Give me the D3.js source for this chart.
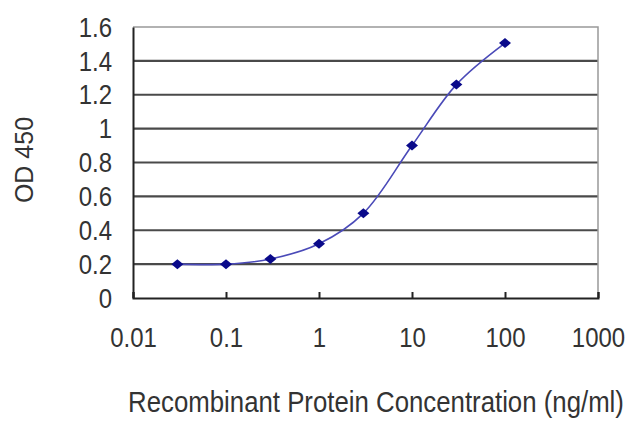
<!DOCTYPE html>
<html>
<head>
<meta charset="utf-8">
<script src="https://cdn.jsdelivr.net/npm/d3@7"></script>
<style>
  body { margin: 0; background: #fff; }
  text { font-family: "Liberation Sans", Arial, sans-serif; fill: #333; }
</style>
</head>
<body>
<svg id="chart" width="640" height="427"></svg>
<script>
// concentration (ng/ml) and OD 450 readings
const concentrations = [0.03, 0.1, 0.3, 1, 3, 10, 30, 100];
const odValues = [0.2, 0.2, 0.23, 0.32, 0.5, 0.9, 1.26, 1.505];
const xTicks = [0.01, 0.1, 1, 10, 100, 1000];
const xTickLabels = ["0.01", "0.1", "1", "10", "100", "1000"];
const yTicks = [0, 0.2, 0.4, 0.6, 0.8, 1, 1.2, 1.4, 1.6];
const yTickLabels = ["0", "0.2", "0.4", "0.6", "0.8", "1", "1.2", "1.4", "1.6"];

const svg = d3.select("#chart");
const plotLeft = 133, plotRight = 598, plotTop = 27, plotBottom = 298;
const stretch = 1.12; // labels in the original look a bit tall

const x = d3.scaleLog().domain([0.01, 1000]).range([plotLeft, plotRight]);
const y = d3.scaleLinear().domain([0, 1.6]).range([plotBottom, plotTop]);

// gridlines
svg.append("g").selectAll("line")
  .data(yTicks.filter(d => d > 0 && d < 1.6))
  .enter().append("line")
  .attr("x1", plotLeft).attr("x2", plotRight)
  .attr("y1", d => y(d)).attr("y2", d => y(d))
  .attr("stroke", "#4a4a4a").attr("stroke-width", 2.2);

// plot frame top/right
svg.append("path")
  .attr("d", `M${plotLeft},${y(1.6)}H${plotRight}V${plotBottom}`)
  .attr("fill", "none").attr("stroke", "#999").attr("stroke-width", 1.5);

// axes
const yAxis = d3.axisLeft(y).tickValues(yTicks).tickSize(0).tickFormat((d, i) => yTickLabels[i]);
const gy = svg.append("g").attr("transform", `translate(${plotLeft},0)`).call(yAxis);
gy.select(".domain").attr("stroke", "#222").attr("stroke-width", 2);
gy.selectAll(".tick text")
  .attr("x", 0).attr("y", 0).attr("dy", "0.34em")
  .attr("transform", `translate(-21,0) scale(1,${stretch})`)
  .style("font-size", "24px").attr("fill", "#333");

const xAxis = d3.axisBottom(x).tickValues(xTicks).tickSize(-6).tickFormat((d, i) => xTickLabels[i]);
const gx = svg.append("g").attr("transform", `translate(0,${plotBottom})`).call(xAxis);
gx.select(".domain").attr("stroke", "#222").attr("stroke-width", 2);
gx.selectAll(".tick line").attr("stroke", "#222").attr("stroke-width", 2);
gx.selectAll(".tick text")
  .attr("y", 0).attr("dy", 0)
  .attr("transform", `translate(0,49) scale(1,${stretch})`)
  .style("font-size", "24px").attr("fill", "#333");

// axis titles
svg.append("text")
  .attr("transform", `translate(376,412) scale(1,${stretch})`)
  .attr("text-anchor", "middle")
  .style("font-size", "25.8px")
  .text("Recombinant Protein Concentration (ng/ml)");

svg.append("text")
  .attr("transform", "translate(33,160) rotate(-90)")
  .attr("text-anchor", "middle")
  .style("font-size", "25px")
  .text("OD 450");

// curve
const points = concentrations.map((c, i) => [c, odValues[i]]);
const line = d3.line()
  .x(d => x(d[0])).y(d => y(d[1]))
  .curve(d3.curveCatmullRom.alpha(0.5));

svg.append("path")
  .datum(points)
  .attr("d", line)
  .attr("fill", "none")
  .attr("stroke", "#4a4ab8")
  .attr("stroke-width", 1.6);

svg.append("g").selectAll("path")
  .data(points)
  .enter().append("path")
  .attr("transform", d => `translate(${x(d[0])},${y(d[1])})`)
  .attr("d", "M0,-5L6,0L0,5L-6,0Z")
  .attr("fill", "#0a0a8a");
</script>
</body>
</html>
